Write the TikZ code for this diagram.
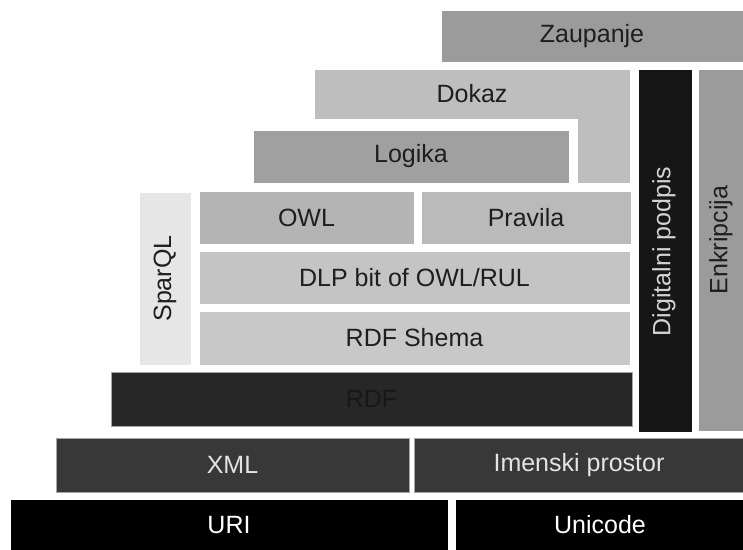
\documentclass[tikz,border=0pt]{standalone}
\usepackage{fontspec}
\setmainfont{Liberation Sans}
\definecolor{cZaup}{RGB}{155,155,155}
\definecolor{cDokaz}{RGB}{190,190,190}
\definecolor{cLogika}{RGB}{160,160,160}
\definecolor{cOwl}{RGB}{180,180,180}
\definecolor{cPrav}{RGB}{186,186,186}
\definecolor{cDlp}{RGB}{196,196,196}
\definecolor{cShema}{RGB}{200,200,200}
\definecolor{cSparql}{RGB}{230,230,230}
\definecolor{cRdf}{RGB}{39,39,39}
\definecolor{cRdfTxt}{RGB}{24,24,24}
\definecolor{cDig}{RGB}{22,22,22}
\definecolor{cDigTxt}{RGB}{212,212,212}
\definecolor{cEnk}{RGB}{155,155,155}
\definecolor{cXml}{RGB}{56,56,56}
\definecolor{cXmlTxt}{RGB}{228,228,228}
\definecolor{cTxt}{RGB}{30,30,30}
\tikzset{
  blk/.style={inner sep=0pt, outer sep=0pt, anchor=north west, draw=white, line width=0.6pt,
    font=\fontsize{25}{30}\selectfont, text=cTxt},
  vtxt/.style={inner sep=0pt, outer sep=0pt, rotate=90, font=\fontsize{25}{30}\selectfont}
}
\begin{document}
\begin{tikzpicture}[x=1pt,y=-1pt]
\useasboundingbox[fill=white] (0,0) rectangle (743,549);
% top
\node[blk, fill=cZaup, minimum width=302pt, minimum height=52pt] (zaup) at (441,10) {Zaupanje};
\fill[cDokaz] (577,110) rectangle (630,183);
\node[blk, fill=cDokaz, draw=none, minimum width=316pt, minimum height=50pt] (dokaz) at (314,69) {Dokaz};
\draw[white, line width=0.6pt] (314,69) -- (630,69) -- (630,183) -- (577,183) -- (577,119) -- (314,119) -- cycle;
\node[blk, fill=cLogika, minimum width=316pt, minimum height=53pt] (logika) at (253,130) {Logika};
% middle
\node[blk, fill=cSparql, minimum width=52pt, minimum height=173pt] (sparqlbox) at (139,192) {};
\node[vtxt, text=cTxt] (sparql) at (sparqlbox.center) {SparQL};
\node[blk, fill=cOwl, minimum width=215pt, minimum height=53pt] (owl) at (199,191) {OWL};
\node[blk, fill=cPrav, minimum width=210pt, minimum height=53pt] (prav) at (421,191) {Pravila};
\node[blk, fill=cDlp, minimum width=431pt, minimum height=53pt] (dlp) at (199,251) {DLP bit of OWL/RUL};
\node[blk, fill=cShema, minimum width=431pt, minimum height=54pt] (shema) at (199,311) {RDF Shema};
\node[blk, fill=cRdf, draw=gray!70, text=cRdfTxt, minimum width=521pt, minimum height=54pt] (rdf) at (111,372) {RDF};
% right columns
\node[blk, fill=cDig, minimum width=54pt, minimum height=363pt] (digbox) at (638,69) {};
\node[vtxt, text=cDigTxt] (dig) at ([xshift=-1pt,yshift=-1pt]digbox.center) {Digitalni podpis};
\node[blk, fill=cEnk, minimum width=46pt, minimum height=362pt] (enkbox) at (698,69) {};
\node[vtxt, text=cTxt] (enk) at ([yshift=10pt]enkbox.center) {Enkripcija};
% bottom
\node[blk, fill=cXml, draw=gray!70, text=cXmlTxt, minimum width=353pt, minimum height=54pt] (xml) at (56,438) {XML};
\node[blk, fill=cXml, draw=gray!70, text=cXmlTxt, minimum width=330pt, minimum height=54pt] (imen) at (414,438) {Imenski prostor};
\node[blk, fill=black, text=white, minimum width=438pt, minimum height=52pt] (uri) at (10,499) {URI};
\node[blk, fill=black, text=white, minimum width=290pt, minimum height=52pt] (uni) at (455,499) {Unicode};
\end{tikzpicture}
\end{document}
